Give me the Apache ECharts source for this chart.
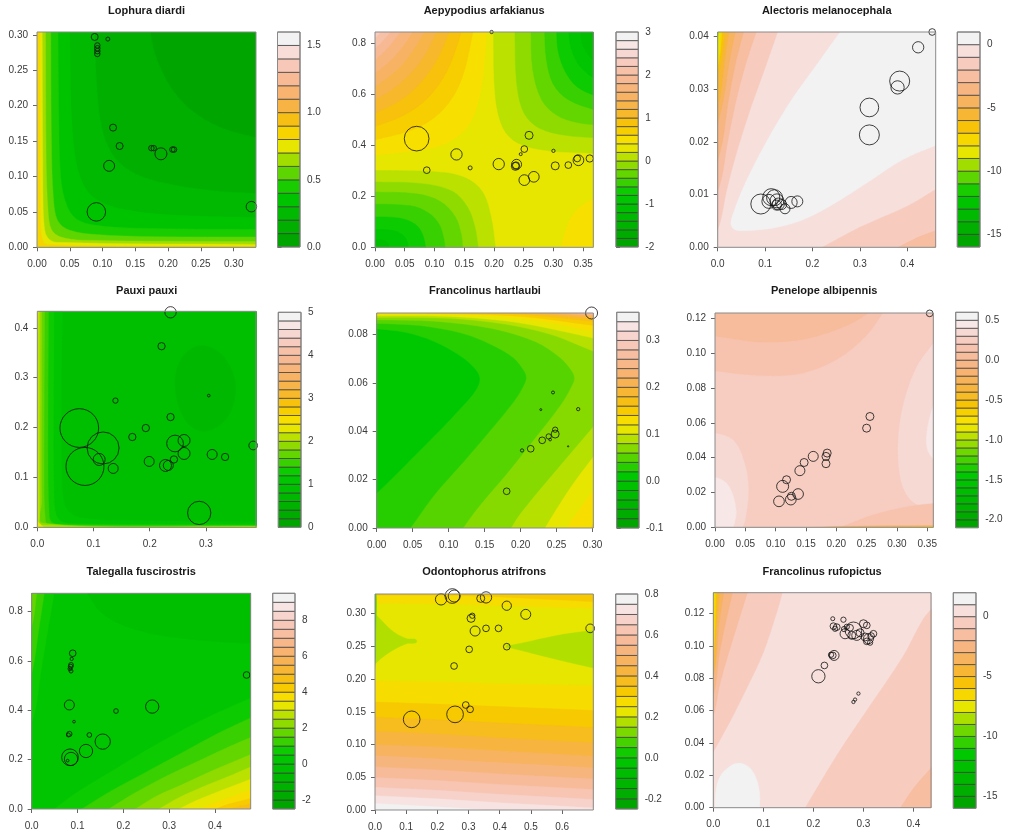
<!DOCTYPE html>
<html>
<head>
<meta charset="utf-8">
<script src="https://cdn.jsdelivr.net/npm/echarts@6/dist/echarts.min.js"></script>
<style>
  html, body { margin: 0; padding: 0; background: #fff; }
  #chart { width: 1014px; height: 836px; }
</style>
</head>
<body>
<div id="chart"></div>
<script>
const titles = ["Lophura diardi", "Aepypodius arfakianus", "Alectoris melanocephala",
  "Pauxi pauxi", "Francolinus hartlaubi", "Penelope albipennis",
  "Talegalla fuscirostris", "Odontophorus atrifrons", "Francolinus rufopictus"];

// axis maxima (all axes start at 0)
const xMax = [0.334, 0.367, 0.46, 0.389, 0.301, 0.36, 0.478, 0.70, 0.435];
const yMax = [0.304, 0.846, 0.0408, 0.433, 0.089, 0.123, 0.874, 0.33, 0.133];

const xTicks = [
  [0, 0.05, 0.1, 0.15, 0.2, 0.25, 0.3],
  [0, 0.05, 0.1, 0.15, 0.2, 0.25, 0.3, 0.35],
  [0, 0.1, 0.2, 0.3, 0.4],
  [0, 0.1, 0.2, 0.3],
  [0, 0.05, 0.1, 0.15, 0.2, 0.25, 0.3],
  [0, 0.05, 0.1, 0.15, 0.2, 0.25, 0.3, 0.35],
  [0, 0.1, 0.2, 0.3, 0.4],
  [0, 0.1, 0.2, 0.3, 0.4, 0.5, 0.6],
  [0, 0.1, 0.2, 0.3, 0.4]
];
const yTicks = [
  [0, 0.05, 0.1, 0.15, 0.2, 0.25, 0.3],
  [0, 0.2, 0.4, 0.6, 0.8],
  [0, 0.01, 0.02, 0.03, 0.04],
  [0, 0.1, 0.2, 0.3, 0.4],
  [0, 0.02, 0.04, 0.06, 0.08],
  [0, 0.02, 0.04, 0.06, 0.08, 0.1, 0.12],
  [0, 0.2, 0.4, 0.6, 0.8],
  [0, 0.05, 0.1, 0.15, 0.2, 0.25, 0.3],
  [0, 0.02, 0.04, 0.06, 0.08, 0.1, 0.12]
];

// contour levels: [lowest, highest, number of bands]
const levels = [[0, 1.6, 16], [-2, 3, 25], [-16, 1, 17], [0, 5, 25], [-0.1, 0.36, 23],
  [-2.1, 0.6, 27], [-2.5, 9.5, 24], [-0.25, 0.8, 21], [-16, 2, 18]];
const barTicks = [
  [0, 0.5, 1, 1.5], [-2, -1, 0, 1, 2, 3], [-15, -10, -5, 0], [0, 1, 2, 3, 4, 5],
  [-0.1, 0, 0.1, 0.2, 0.3], [-2, -1.5, -1, -0.5, 0, 0.5], [-2, 0, 2, 4, 6, 8],
  [-0.2, 0, 0.2, 0.4, 0.6, 0.8], [-15, -10, -5, 0]
];

// band filling the whole plot before the contour regions are drawn
const baseBand = [0, 11, 15, 4, 5, 21, 5, 9, 16];

// contour regions: [band, closing corners, boundary]
const p1Bands = [
  [1, "br bl tl", [[0.172,0.31],[0.178,0.28],[0.19,0.25],[0.205,0.225],[0.23,0.198],[0.265,0.176],[0.30,0.163],[0.34,0.154]]],
  [2, "br bl tl", [[0.088,0.31],[0.09,0.25],[0.095,0.19],[0.105,0.15],[0.125,0.12],[0.16,0.1],[0.21,0.088],[0.27,0.08],[0.34,0.076]]],
  [3, "br bl tl", [[0.05,0.31],[0.052,0.2],[0.058,0.13],[0.07,0.09],[0.09,0.068],[0.13,0.054],[0.2,0.046],[0.34,0.042]]],
  [4, "br bl tl", [[0.032,0.31],[0.033,0.2],[0.036,0.1],[0.045,0.06],[0.06,0.04],[0.09,0.031],[0.15,0.027],[0.34,0.025]]],
  [5, "br bl tl", [[0.021,0.31],[0.022,0.15],[0.025,0.07],[0.032,0.037],[0.05,0.024],[0.09,0.018],[0.18,0.015],[0.34,0.0145]]],
  [6, "br bl tl", [[0.013,0.31],[0.014,0.12],[0.017,0.05],[0.022,0.025],[0.035,0.015],[0.07,0.01],[0.34,0.008]]],
  [7, "br bl tl", [[0.008,0.31],[0.009,0.08],[0.011,0.03],[0.016,0.014],[0.03,0.007],[0.34,0.004]]],
  [8, "br bl tl", [[0.004,0.31],[0.005,0.05],[0.007,0.015],[0.015,0.004],[0.34,0.0015]]]
];
const p2Bands = [
  [12, "tl", [[-0.01,0.3605],[0.08,0.383],[0.13,0.421],[0.16,0.49],[0.175,0.586],[0.183,0.706],[0.188,0.86]]],
  [13, "tl", [[-0.01,0.416],[0.06,0.459],[0.1,0.51],[0.13,0.587],[0.15,0.69],[0.166,0.86]]],
  [14, "tl", [[-0.01,0.466],[0.05,0.521],[0.09,0.59],[0.12,0.688],[0.14,0.807],[0.146,0.86]]],
  [15, "tl", [[-0.01,0.516],[0.04,0.574],[0.07,0.63],[0.1,0.72],[0.12,0.8175],[0.126,0.86]]],
  [16, "tl", [[-0.01,0.566],[0.03,0.622],[0.06,0.684],[0.085,0.761],[0.106,0.86]]],
  [17, "tl", [[-0.01,0.616],[0.03,0.683],[0.055,0.744],[0.087,0.86]]],
  [18, "tl", [[-0.01,0.665],[0.025,0.732],[0.045,0.784],[0.067,0.86]]],
  [19, "tl", [[-0.01,0.716],[0.02,0.78],[0.047,0.86]]],
  [20, "tl", [[-0.01,0.759],[0.015,0.816],[0.03,0.86]]],
  [21, "tl", [[-0.01,0.797],[0.005,0.833],[0.015,0.86]]],
  [12, "br", [[0.312,-0.01],[0.318,0.05],[0.328,0.11],[0.345,0.16],[0.375,0.2]]],
  [10, "bl", [[-0.01,0.302],[0.1,0.297],[0.15,0.275],[0.18,0.22],[0.195,0.12],[0.203,-0.01]]],
  [9, "bl", [[-0.01,0.257],[0.08,0.25],[0.13,0.22],[0.155,0.16],[0.168,0.08],[0.174,-0.01]]],
  [8, "bl", [[-0.01,0.218],[0.07,0.21],[0.11,0.18],[0.135,0.12],[0.145,0.05],[0.148,-0.01]]],
  [7, "bl", [[-0.01,0.17],[0.06,0.163],[0.09,0.135],[0.108,0.09],[0.116,0.03],[0.118,-0.01]]],
  [6, "bl", [[-0.01,0.12],[0.04,0.115],[0.068,0.09],[0.08,0.05],[0.086,-0.01]]],
  [5, "bl", [[-0.01,0.07],[0.03,0.066],[0.048,0.045],[0.055,0.015],[0.056,-0.01]]],
  [4, "bl", [[-0.01,0.03],[0.018,0.024],[0.026,-0.01]]],
  [10, "tr", [[0.199,0.86],[0.202,0.6],[0.215,0.47],[0.24,0.41],[0.29,0.38],[0.375,0.369]]],
  [9, "tr", [[0.235,0.86],[0.238,0.65],[0.25,0.53],[0.275,0.47],[0.32,0.44],[0.375,0.43]]],
  [8, "tr", [[0.262,0.86],[0.265,0.7],[0.28,0.58],[0.305,0.52],[0.34,0.49],[0.375,0.48]]],
  [7, "tr", [[0.285,0.86],[0.288,0.74],[0.30,0.64],[0.325,0.58],[0.375,0.535]]],
  [6, "tr", [[0.305,0.86],[0.308,0.77],[0.32,0.69],[0.34,0.63],[0.375,0.59]]],
  [5, "tr", [[0.325,0.86],[0.33,0.78],[0.345,0.71],[0.375,0.65]]],
  [4, "tr", [[0.345,0.86],[0.35,0.79],[0.375,0.71]]],
  [3, "tr", [[0.36,0.86],[0.375,0.78]]]
];
const p3Bands = [
  [16, "tr", [[0.272,0.0425],[0.216,0.0355],[0.146,0.0266],[0.085,0.017],[0.05,0.0105],[0.032,0.0062],[0.028,0.0043],[0.037,0.0033],[0.07,0.0032],[0.12,0.0037],[0.18,0.0052],[0.25,0.0085],[0.32,0.0125],[0.39,0.0166],[0.47,0.0197]]],
  [14, "tl", [[0.131,0.042],[0.1,0.034],[0.07,0.0265],[0.04,0.018],[0.018,0.0105],[0.006,0.005],[-0.01,0.001]]],
  [13, "tl", [[0.086,0.042],[0.06,0.035],[0.038,0.0275],[0.02,0.0195],[0.008,0.013],[-0.01,0.008]]],
  [12, "tl", [[0.058,0.042],[0.038,0.035],[0.022,0.0275],[0.01,0.02],[-0.01,0.013]]],
  [11, "tl", [[0.04,0.042],[0.025,0.0355],[0.012,0.028],[-0.01,0.02]]],
  [10, "tl", [[0.026,0.042],[0.015,0.036],[0.006,0.029],[-0.01,0.024]]],
  [9, "tl", [[0.016,0.042],[0.008,0.036],[-0.01,0.028]]],
  [8, "tl", [[0.01,0.042],[0.004,0.036],[-0.01,0.03]]],
  [7, "tl", [[0.006,0.042],[0.002,0.036],[-0.01,0.032]]],
  [6, "tl", [[0.004,0.042],[-0.01,0.034]]],
  [5, "tl", [[0.0025,0.042],[-0.01,0.037]]],
  [14, "br", [[0.2,-0.001],[0.3,0.0038],[0.4,0.0078],[0.47,0.0115]]],
  [13, "br", [[0.36,-0.001],[0.42,0.0018],[0.47,0.0035]]],
  [12, "br", [[0.44,-0.001],[0.47,0.001]]]
];
const p4Bands = [
  [3, "loop", [[0.245,0.29],[0.255,0.335],[0.278,0.36],[0.305,0.362],[0.333,0.34],[0.352,0.29],[0.345,0.235],[0.318,0.2],[0.285,0.195],[0.258,0.225]]],
  [5, "br bl tl", [[0.045,0.44],[0.043,0.25],[0.044,0.1],[0.048,0.05],[0.058,0.03],[0.08,0.019],[0.15,0.014],[0.4,0.011]]],
  [6, "br bl tl", [[0.03,0.44],[0.029,0.2],[0.03,0.06],[0.034,0.025],[0.045,0.011],[0.08,0.007],[0.4,0.0055]]],
  [7, "br bl tl", [[0.02,0.44],[0.019,0.15],[0.021,0.03],[0.026,0.01],[0.05,0.005],[0.4,0.0038]]],
  [8, "br bl tl", [[0.013,0.44],[0.012,0.1],[0.014,0.02],[0.02,0.005],[0.4,0.0025]]],
  [9, "br bl tl", [[0.008,0.44],[0.0075,0.05],[0.01,0.008],[0.4,0.0016]]],
  [10, "br bl tl", [[0.0045,0.44],[0.004,0.02],[0.006,0.004],[0.4,0.001]]],
  [11, "br bl tl", [[0.0018,0.44],[0.0018,0.01],[0.4,0.0005]]]
];
const p5Bands = [
  [6, "bl br tr tl", [[-0.01,0.0828],[0.04,0.081],[0.08,0.0772],[0.115,0.0715],[0.135,0.0665],[0.1435,0.062],[0.138,0.057],[0.12,0.0505],[0.09,0.041],[0.05,0.029],[0.02,0.02],[-0.01,0.0115]]],
  [7, "br tr tl", [[-0.01,0.0848],[0.06,0.0838],[0.12,0.0805],[0.16,0.0758],[0.19,0.0705],[0.205,0.065],[0.208,0.062],[0.203,0.058],[0.19,0.052],[0.16,0.041],[0.12,0.027],[0.08,0.0135],[0.045,-0.001]]],
  [8, "br tr tl", [[-0.01,0.0862],[0.08,0.0856],[0.16,0.0826],[0.22,0.0772],[0.255,0.0705],[0.27,0.0655],[0.275,0.062],[0.27,0.058],[0.255,0.0505],[0.22,0.037],[0.18,0.022],[0.14,0.008],[0.118,-0.001]]],
  [9, "tr tl", [[-0.01,0.0872],[0.1,0.0868],[0.18,0.0843],[0.24,0.0803],[0.28,0.0758],[0.31,0.072]]],
  [9, "br", [[0.31,0.045],[0.25,0.024],[0.2,0.006],[0.185,-0.001]]],
  [10, "tr tl", [[-0.01,0.0879],[0.1,0.0876],[0.18,0.0857],[0.24,0.0826],[0.31,0.078]]],
  [10, "br", [[0.31,0.033],[0.27,0.017],[0.24,0.003],[0.232,-0.001]]],
  [11, "tr tl", [[-0.01,0.0885],[0.1,0.0883],[0.2,0.0868],[0.31,0.081]]],
  [11, "br", [[0.31,0.019],[0.285,0.009],[0.262,-0.001]]],
  [12, "tr", [[0.0,0.0895],[0.08,0.0888],[0.2,0.0876],[0.31,0.0835]]],
  [12, "br", [[0.31,0.006],[0.295,-0.001]]],
  [13, "tr", [[0.08,0.0895],[0.2,0.0884],[0.31,0.0852]]],
  [14, "tr", [[0.14,0.0895],[0.22,0.0885],[0.31,0.0862]]],
  [15, "tr", [[0.175,0.0895],[0.24,0.0887],[0.31,0.087]]],
  [16, "tr", [[0.21,0.0895],[0.26,0.0888],[0.31,0.0876]]],
  [17, "tr", [[0.24,0.0895],[0.31,0.088]]],
  [18, "tr", [[0.26,0.0895],[0.31,0.0884]]],
  [19, "tr", [[0.275,0.0895],[0.31,0.0887]]],
  [20, "tr", [[0.29,0.0895],[0.31,0.0889]]]
];
const p6Bands = [
  [22, "bl br tr", [[0.267,0.126],[0.22,0.116],[0.15,0.108],[0.08,0.106],[0.03,0.108],[-0.01,0.11]]],
  [23, "bl br tr", [[0.283,0.126],[0.25,0.11],[0.2,0.096],[0.14,0.088],[0.07,0.087],[-0.01,0.09]]],
  [24, "bl", [[-0.01,0.055],[0.03,0.05],[0.05,0.035],[0.055,0.02],[0.05,0.005],[0.045,-0.001]]],
  [24, "", [[0.37,0.11],[0.33,0.09],[0.305,0.06],[0.305,0.03],[0.325,0.015],[0.37,0.01]]],
  [25, "bl", [[-0.01,0.03],[0.02,0.025],[0.035,0.01],[0.03,-0.001]]],
  [25, "", [[0.37,0.08],[0.352,0.06],[0.35,0.045],[0.37,0.035]]],
  [22, "br", [[0.2,-0.001],[0.26,0.007],[0.32,0.012],[0.37,0.014]]],
  [18, "br", [[0.1,-0.001],[0.2,0.0005],[0.37,0.001]]],
  [13, "br", [[0.2,-0.001],[0.37,0.0004]]]
];
const p7Bands = [
  [4, "tr", [[0.12,0.88],[0.15,0.8],[0.2,0.745],[0.28,0.705],[0.38,0.683],[0.49,0.67]]],
  [6, "tl", [[0.05,0.88],[0.035,0.72],[0.02,0.55],[0.008,0.4],[-0.01,0.3]]],
  [7, "tl", [[0.028,0.88],[0.015,0.72],[0.004,0.58],[-0.01,0.48]]],
  [8, "tl", [[0.011,0.88],[0.003,0.76],[-0.01,0.7]]],
  [6, "br", [[0.045,-0.005],[0.1,0.07],[0.18,0.16],[0.27,0.26],[0.37,0.36],[0.49,0.46]]],
  [7, "br", [[0.105,-0.005],[0.17,0.07],[0.25,0.15],[0.33,0.23],[0.41,0.31],[0.49,0.38]]],
  [8, "br", [[0.164,-0.005],[0.22,0.06],[0.29,0.13],[0.37,0.2],[0.44,0.26],[0.49,0.3]]],
  [9, "br", [[0.222,-0.005],[0.27,0.05],[0.33,0.1],[0.4,0.16],[0.49,0.23]]],
  [10, "br", [[0.273,-0.005],[0.32,0.045],[0.38,0.095],[0.44,0.14],[0.49,0.18]]],
  [11, "br", [[0.316,-0.005],[0.36,0.035],[0.42,0.08],[0.49,0.13]]],
  [12, "br", [[0.36,-0.005],[0.4,0.025],[0.45,0.06],[0.49,0.085]]],
  [13, "br", [[0.396,-0.005],[0.43,0.02],[0.49,0.048]]],
  [14, "br", [[0.425,-0.005],[0.455,0.012],[0.49,0.025]]],
  [15, "br", [[0.445,-0.005],[0.49,0.012]]],
  [16, "br", [[0.46,-0.005],[0.49,0.005]]]
];
const p8Bands = [
  [10, "br bl", [[-0.01,0.197],[0.2,0.196],[0.4,0.193],[0.71,0.19]]],
  [11, "br bl", [[-0.01,0.165],[0.2,0.162],[0.4,0.158],[0.71,0.152]]],
  [12, "br bl", [[-0.01,0.142],[0.2,0.138],[0.4,0.133],[0.71,0.126]]],
  [13, "br bl", [[-0.01,0.12],[0.2,0.116],[0.4,0.11],[0.71,0.102]]],
  [14, "br bl", [[-0.01,0.1],[0.2,0.096],[0.4,0.09],[0.71,0.082]]],
  [15, "br bl", [[-0.01,0.083],[0.2,0.078],[0.4,0.072],[0.71,0.064]]],
  [16, "br bl", [[-0.01,0.066],[0.2,0.061],[0.4,0.055],[0.71,0.047]]],
  [17, "br bl", [[-0.01,0.05],[0.2,0.045],[0.4,0.039],[0.71,0.031]]],
  [18, "br bl", [[-0.01,0.035],[0.2,0.03],[0.4,0.024],[0.71,0.016]]],
  [19, "br bl", [[-0.01,0.022],[0.2,0.017],[0.4,0.011],[0.71,0.003]]],
  [20, "bl", [[-0.01,0.01],[0.15,0.006],[0.3,0.002],[0.4,-0.002]]],
  [10, "tr tl", [[-0.01,0.316],[0.2,0.315],[0.4,0.312],[0.71,0.308]]],
  [11, "tr tl", [[-0.01,0.328],[0.3,0.327],[0.5,0.323],[0.71,0.318]]],
  [8, "", [[-0.01,0.305],[0.02,0.29],[0.06,0.272],[0.1,0.262],[0.134,0.258],[0.1,0.254],[0.06,0.245],[0.02,0.232],[-0.01,0.218]]],
  [8, "", [[0.71,0.275],[0.6,0.268],[0.5,0.258],[0.44,0.252],[0.42,0.25],[0.44,0.247],[0.5,0.24],[0.6,0.228],[0.71,0.216]]],
  [6, "", [[-0.01,0.335],[0.003,0.335],[0.002,0.27],[0.0,0.22],[-0.01,0.2]]]
];
const p9Bands = [
  [17, "", [[0.003,-0.01],[0.005,0.01],[0.015,0.02],[0.035,0.026],[0.055,0.0275],[0.075,0.024],[0.088,0.016],[0.093,0.006],[0.09,-0.01]]],
  [15, "tl", [[0.14,0.135],[0.127,0.121],[0.1,0.096],[0.067,0.074],[0.033,0.053],[-0.01,0.029]]],
  [15, "br", [[0.18,-0.002],[0.247,0.0325],[0.313,0.063],[0.38,0.094],[0.42,0.117],[0.445,0.126]]],
  [14, "tl", [[0.07,0.135],[0.05,0.115],[0.03,0.095],[0.012,0.075],[0.003,0.06],[-0.01,0.05]]],
  [13, "tl", [[0.04,0.135],[0.025,0.115],[0.012,0.095],[0.004,0.075],[-0.01,0.06]]],
  [12, "tl", [[0.022,0.135],[0.012,0.115],[0.005,0.09],[-0.01,0.066]]],
  [11, "tl", [[0.013,0.135],[0.006,0.11],[0.002,0.085],[-0.01,0.07]]],
  [10, "tl", [[0.008,0.135],[0.003,0.11],[-0.01,0.075]]],
  [9, "tl", [[0.005,0.135],[0.0015,0.1],[-0.01,0.08]]],
  [8, "tl", [[0.003,0.135],[-0.01,0.09]]],
  [6, "tl", [[0.0015,0.135],[-0.01,0.11]]],
  [14, "br", [[0.37,-0.002],[0.4,0.012],[0.445,0.028]]],
  [13, "br", [[0.43,-0.002],[0.445,0.005]]]
];

// observed points: [x, y, circle diameter]
const p1Points = [[0.088,0.297,7],[0.111,0.305,7],[0.108,0.294,4],[0.092,0.285,5.5],[0.092,0.281,5.5],[0.092,0.277,5.5],[0.092,0.273,5.5],[0.116,0.169,7],[0.126,0.143,7],[0.110,0.115,11],[0.0905,0.050,18.5],[0.1745,0.140,5.5],[0.178,0.140,5.5],[0.189,0.132,12],[0.2065,0.138,5.5],[0.209,0.138,5.5],[0.327,0.0574,10.5]];
const p2Points = [[0.070,0.427,24.7],[0.137,0.365,11.3],[0.087,0.303,6.7],[0.160,0.312,4],[0.196,0.846,3.3],[0.208,0.327,11.3],[0.236,0.318,8],[0.238,0.326,10],[0.237,0.322,7],[0.245,0.366,3],[0.251,0.386,6.7],[0.259,0.44,8],[0.251,0.264,10.7],[0.267,0.277,10.7],[0.300,0.379,3.3],[0.303,0.320,8],[0.325,0.323,6.7],[0.342,0.342,10.7],[0.340,0.349,6.7],[0.361,0.349,7.3]];
const p3Points = [[0.091,0.0082,20],[0.108,0.0087,14],[0.113,0.0095,17],[0.12,0.0094,16],[0.125,0.0088,14],[0.128,0.0082,12],[0.124,0.008,10],[0.135,0.0081,10],[0.142,0.0073,10],[0.155,0.0085,12],[0.168,0.0087,11],[0.32,0.0265,18.7],[0.32,0.0213,20],[0.3795,0.0303,13.3],[0.384,0.0315,20],[0.423,0.0379,11.3],[0.4526,0.0408,6.7]];
const p4Points = [[0.237,0.431,11.3],[0.221,0.363,7.3],[0.139,0.254,5.3],[0.305,0.264,2.7],[0.237,0.221,7.3],[0.193,0.199,7.3],[0.169,0.181,7.3],[0.0747,0.199,38.7],[0.117,0.159,32],[0.0848,0.122,38],[0.110,0.136,12],[0.135,0.118,10],[0.199,0.132,10],[0.228,0.124,12],[0.233,0.124,10],[0.243,0.136,7.3],[0.245,0.168,16.7],[0.261,0.174,12],[0.261,0.148,12],[0.311,0.146,10],[0.334,0.141,7.3],[0.384,0.164,8.7],[0.288,0.0288,23.3]];
const p5Points = [[0.2986,0.089,12],[0.245,0.0561,3],[0.228,0.049,2],[0.280,0.0492,3.3],[0.248,0.0407,5.3],[0.248,0.0389,8],[0.239,0.0379,5.3],[0.241,0.0366,2.7],[0.230,0.0363,6.7],[0.214,0.0328,6.7],[0.202,0.0321,3.3],[0.1806,0.0152,6.7],[0.266,0.0338,1.3]];
const p6Points = [[0.2555,0.0636,8],[0.25,0.0569,8],[0.354,0.1228,6.7],[0.185,0.0426,8],[0.183,0.0407,8],[0.183,0.0365,8],[0.162,0.0407,10],[0.147,0.0372,8],[0.140,0.0325,10],[0.118,0.0273,8],[0.1115,0.0235,12],[0.137,0.0191,10.7],[0.126,0.0178,8],[0.125,0.0159,10.7],[0.1055,0.0149,10.7]];
const p7Points = [[0.0895,0.631,6.7],[0.0873,0.608,3.3],[0.0858,0.584,4.7],[0.0851,0.577,4.7],[0.0836,0.568,4],[0.0858,0.559,4],[0.0822,0.4216,10],[0.0924,0.354,2.7],[0.0822,0.304,5.3],[0.08,0.3,4],[0.1258,0.3,4.7],[0.155,0.273,15.3],[0.1185,0.235,13.3],[0.0836,0.2095,16.7],[0.0858,0.2027,13.3],[0.0785,0.196,2.7],[0.184,0.397,4.7],[0.263,0.415,13.3],[0.469,0.543,6.7]];
const p8Points = [[0.2118,0.3218,11.3],[0.248,0.3269,14.7],[0.254,0.3269,12],[0.339,0.3233,8],[0.356,0.3248,11.3],[0.4225,0.3121,9.3],[0.4834,0.2989,10],[0.308,0.2928,8],[0.312,0.2968,5.3],[0.321,0.2734,10],[0.356,0.2775,6.7],[0.396,0.2775,6.7],[0.69,0.2775,8.7],[0.302,0.2454,6.7],[0.4225,0.2495,6.7],[0.2535,0.22,6.7],[0.291,0.1604,6.7],[0.305,0.1538,6.7],[0.2567,0.1461,16.7],[0.1176,0.1385,16.7]];
const p9Points = [[0.2387,0.1169,4],[0.26,0.1163,5.3],[0.24,0.1123,6.7],[0.2467,0.1117,6.7],[0.2433,0.1107,5.3],[0.2613,0.1105,5.3],[0.2667,0.1119,5.3],[0.2733,0.1113,6.7],[0.28,0.1097,16.7],[0.2633,0.1076,10],[0.2767,0.1066,8],[0.2867,0.1066,10],[0.2933,0.1082,8],[0.30,0.1138,8],[0.3067,0.1128,6.7],[0.3033,0.1056,8],[0.31,0.1045,10],[0.3067,0.1029,6.7],[0.3133,0.1021,5.3],[0.32,0.1076,6.7],[0.3153,0.1062,6.7],[0.2387,0.0942,6.7],[0.2353,0.0946,5.3],[0.2413,0.0942,10],[0.222,0.088,6.7],[0.21,0.0813,13.3],[0.29,0.0706,3.3],[0.2833,0.0669,3.3],[0.28,0.0654,3.3]];

const bandSets = [p1Bands, p2Bands, p3Bands, p4Bands, p5Bands, p6Bands, p7Bands, p8Bands, p9Bands];
const pointSets = [p1Points, p2Points, p3Points, p4Points, p5Points, p6Points, p7Points, p8Points, p9Points];

// label decimals
const xDec = [2, 2, 1, 1, 2, 2, 1, 1, 1];
const yDec = [2, 1, 2, 1, 2, 2, 1, 2, 2];
const barDec = [1, 0, 0, 0, 1, 1, 0, 1, 0];

// page layout: plot box, colour bar box [left, top, width, height], title centre y
const layout = [
  { plot: [37, 32, 219, 215.3], bar: [277.5, 32, 22.5, 215], ty: 11 },
  { plot: [375, 32, 218.3, 215.3], bar: [616, 32, 22.3, 215], ty: 11 },
  { plot: [717.7, 32, 218, 215.3], bar: [957.3, 32, 22.7, 215], ty: 11 },
  { plot: [37.3, 311.3, 218.7, 216], bar: [278.3, 312.3, 22.7, 215], ty: 291.3 },
  { plot: [376.7, 313, 216.6, 215], bar: [616.7, 312.3, 22.3, 215.7], ty: 291 },
  { plot: [715, 313, 218.3, 214.3], bar: [955.7, 312.3, 22.6, 215.4], ty: 291 },
  { plot: [31.7, 593.3, 219, 215.7], bar: [272.7, 593.3, 22.3, 215.7], ty: 571.7 },
  { plot: [375, 594, 218.3, 216], bar: [615.7, 594, 22, 215], ty: 571.7 },
  { plot: [713.3, 592.7, 217.7, 215], bar: [953.3, 592.7, 22.7, 215.6], ty: 571.7 }
];

const FONT = "'Liberation Sans', Arial, sans-serif";

function rgb(r, g, b) {
  return "rgb(" + Math.round(r) + "," + Math.round(g) + "," + Math.round(b) + ")";
}
function hsv(h, s, v) {
  const c = v * s, hp = h / 60, x = c * (1 - Math.abs((hp % 2) - 1)), m = v - c;
  let r = 0, g = 0, b = 0;
  if (hp < 1) { r = c; g = x; } else if (hp < 2) { r = x; g = c; } else { g = c; b = x; }
  return rgb((r + m) * 255, (g + m) * 255, (b + m) * 255);
}
// terrain-like palette: green -> yellow, then yellow -> orange -> pink -> white
function palette(n) {
  const k = Math.floor(n / 2), out = [];
  for (let i = 0; i < k; i++) {
    const f = k > 1 ? i / (k - 1) : 1;
    const r = f < 0.52 ? 0 : 230 * (f - 0.52) / 0.48;
    const g = f < 0.5 ? 165 + 70 * f : 200 + 30 * (f - 0.5) / 0.5;
    out.push(rgb(r, g, 0));
  }
  for (let j = 1; j <= n - k; j++) {
    const t = j / (n - k), u = 1 - t;
    out.push(hsv(60 * u, u * (1 + 0.4 * u * u), t < 1 ? 0.97 : 0.95));
  }
  return out;
}

function smoothPath(px, loop) {
  const n = px.length;
  const tan = px.map((p, i) => {
    const a = loop ? px[(i - 1 + n) % n] : px[Math.max(i - 1, 0)];
    const b = loop ? px[(i + 1) % n] : px[Math.min(i + 1, n - 1)];
    const dx = b[0] - a[0], dy = b[1] - a[1], len = Math.hypot(dx, dy) || 1;
    return [dx / len, dy / len];
  });
  let d = "M " + px[0][0].toFixed(2) + " " + px[0][1].toFixed(2);
  const segs = loop ? n : n - 1;
  for (let i = 0; i < segs; i++) {
    const j = (i + 1) % n, p = px[i], q = px[j];
    const L = Math.hypot(q[0] - p[0], q[1] - p[1]) / 3;
    const vals = [p[0] + tan[i][0] * L, p[1] + tan[i][1] * L,
      q[0] - tan[j][0] * L, q[1] - tan[j][1] * L, q[0], q[1]];
    d += " C " + vals.map(v => v.toFixed(2)).join(" ");
  }
  return d;
}

const option = { animation: false, grid: [], xAxis: [], yAxis: [], series: [], graphic: [] };

for (let p = 0; p < 9; p++) {
  const lay = layout[p];
  const [lo, hi, nb] = levels[p];
  const step = (hi - lo) / nb;
  const cols = palette(nb);
  const bands = bandSets[p];
  const gPlot = 2 * p, gBar = 2 * p + 1;

  option.grid.push({ left: lay.plot[0], top: lay.plot[1], width: lay.plot[2], height: lay.plot[3], outerBoundsMode: "none" });
  option.grid.push({ left: lay.bar[0], top: lay.bar[1], width: lay.bar[2], height: lay.bar[3], outerBoundsMode: "none" });

  const labelStyle = { fontSize: 10, color: "#3a3a3a", fontFamily: FONT };
  const tickStyle = { show: true, length: 4, lineStyle: { color: "#666", width: 1 } };

  option.xAxis.push({
    gridIndex: gPlot, type: "value", min: 0, max: xMax[p],
    axisLine: { show: false }, splitLine: { show: false },
    axisTick: Object.assign({ customValues: xTicks[p] }, tickStyle),
    axisLabel: Object.assign({ customValues: xTicks[p], margin: 12, formatter: v => v.toFixed(xDec[p]) }, labelStyle)
  });
  option.yAxis.push({
    gridIndex: gPlot, type: "value", min: 0, max: yMax[p],
    axisLine: { show: false }, splitLine: { show: false },
    axisTick: Object.assign({ customValues: yTicks[p] }, tickStyle),
    axisLabel: Object.assign({ customValues: yTicks[p], margin: 9, formatter: v => v.toFixed(yDec[p]) }, labelStyle)
  });
  option.xAxis.push({ gridIndex: gBar, type: "value", min: 0, max: 1, show: false });
  option.yAxis.push({
    gridIndex: gBar, type: "value", min: lo, max: hi, position: "right",
    axisLine: { show: false }, splitLine: { show: false },
    axisTick: Object.assign({ customValues: barTicks[p] }, tickStyle),
    axisLabel: Object.assign({ customValues: barTicks[p], margin: 7, formatter: v => v.toFixed(barDec[p]) }, labelStyle)
  });

  // filled contour surface
  option.series.push({
    type: "custom", xAxisIndex: gPlot, yAxisIndex: gPlot, clip: true, silent: true, z: 1,
    data: [[-1, 0]].concat(bands.map((b, i) => [i, 0])),
    renderItem(params, api) {
      const r = params.coordSys, pad = 8;
      const idx = params.dataIndex - 1;
      if (idx < 0) {
        return { type: "rect", shape: { x: r.x - 1, y: r.y - 1, width: r.width + 2, height: r.height + 2 },
          style: { fill: cols[baseBand[p]] } };
      }
      const [band, closure, pts] = bands[idx];
      const px = pts.map(pt => api.coord(pt));
      const loop = closure === "loop";
      let d = smoothPath(px, loop);
      if (!loop) {
        const corner = {
          tl: [r.x - pad, r.y - pad], tr: [r.x + r.width + pad, r.y - pad],
          br: [r.x + r.width + pad, r.y + r.height + pad], bl: [r.x - pad, r.y + r.height + pad]
        };
        closure.split(" ").filter(Boolean).forEach(c => {
          d += " L " + corner[c][0].toFixed(2) + " " + corner[c][1].toFixed(2);
        });
      }
      d += " Z";
      return { type: "path", shape: { pathData: d },
        style: { fill: cols[band], stroke: cols[band], lineWidth: 0.4 } };
    }
  });

  // observation circles
  option.series.push({
    type: "scatter", xAxisIndex: gPlot, yAxisIndex: gPlot, clip: true, silent: true, z: 3,
    symbol: "circle", symbolSize: v => v[2],
    itemStyle: { color: "rgba(0,0,0,0)", borderColor: "#111", borderWidth: 0.8, opacity: 1 },
    data: pointSets[p]
  });

  // colour key
  option.series.push({
    type: "custom", xAxisIndex: gBar, yAxisIndex: gBar, silent: true, z: 1,
    data: cols.map((c, i) => [i, lo + i * step]),
    renderItem(params, api) {
      const i = params.dataIndex;
      const a = api.coord([0, lo + (i + 1) * step]);
      const b = api.coord([1, lo + i * step]);
      return { type: "rect", shape: { x: a[0], y: a[1], width: b[0] - a[0], height: b[1] - a[1] },
        style: { fill: cols[i], stroke: "#3a3a3a", lineWidth: 0.7 } };
    }
  });

  // frames and title
  option.graphic.push({ type: "rect", z: 50, silent: true,
    shape: { x: lay.plot[0], y: lay.plot[1], width: lay.plot[2], height: lay.plot[3] },
    style: { fill: null, stroke: "#8a8a8a", lineWidth: 1 } });
  option.graphic.push({ type: "rect", z: 50, silent: true,
    shape: { x: lay.bar[0], y: lay.bar[1], width: lay.bar[2], height: lay.bar[3] },
    style: { fill: null, stroke: "#8a8a8a", lineWidth: 1 } });
  option.graphic.push({ type: "text", z: 50, silent: true,
    x: lay.plot[0] + lay.plot[2] / 2, y: lay.ty,
    style: { text: titles[p], textAlign: "center", textVerticalAlign: "middle",
      font: "bold 11px " + FONT, fill: "#1a1a1a" } });
}

const chart = echarts.init(document.getElementById("chart"), null, { renderer: "canvas" });
chart.setOption(option);
</script>
</body>
</html>
